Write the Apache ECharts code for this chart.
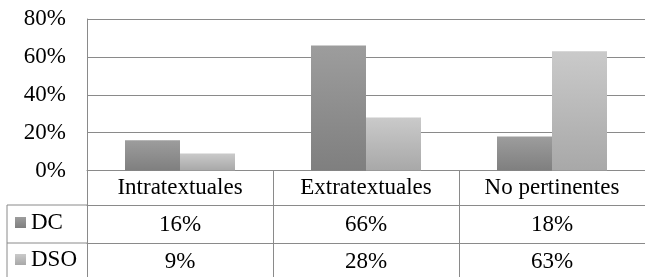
<!DOCTYPE html>
<html lang="es">
<head>
    <meta charset="UTF-8">
    <script type="text/javascript" src="https://cdn.jsdelivr.net/npm/echarts@6/dist/echarts.min.js"></script>
    <style>
        html, body {margin: 0; padding: 0; background: #fff;}
        #chart {width: 645px; height: 277px;}
    </style>
</head>
<body>
<div id="chart"></div>
</body>
<script>
    var categories = ['Intratextuales', 'Extratextuales', 'No pertinentes'];
    var dcValues = [16, 66, 18];
    var dsoValues = [9, 28, 63];
    var yTicks = [0, 20, 40, 60, 80];

    var font = "'Liberation Serif', 'Times New Roman', serif";
    var fontSize = 23;
    var lineColor = '#8a8a8a';
    // rows of the data table under the plot
    var headRow = 34.5, valueRow = 38;
    var tableLeft = 7, plotLeft = 87, axisY = 170.5;

    function pct(v) { return v + '%'; }

    var dcColor = new echarts.graphic.LinearGradient(0, 0, 0, 1, [
        {offset: 0, color: '#9d9d9d'}, {offset: 1, color: '#7f7f7f'}
    ]);
    var dsoColor = new echarts.graphic.LinearGradient(0, 0, 0, 1, [
        {offset: 0, color: '#cacaca'}, {offset: 1, color: '#a8a8a8'}
    ]);

    var tableAxis = function (data, offset, tickLen, margin) {
        return {
            type: 'category',
            position: 'bottom',
            offset: offset,
            data: data,
            axisLine: {show: true, lineStyle: {color: lineColor, width: 1}},
            axisTick: {show: true, inside: false, length: tickLen, lineStyle: {color: lineColor, width: 1}},
            axisLabel: {color: '#000', fontFamily: font, fontSize: fontSize, margin: margin, interval: 0},
            splitLine: {show: false}
        };
    };

    var rowLegend = function (name, top) {
        return {
            left: 15,
            top: top,
            padding: 0,
            icon: 'rect',
            itemWidth: 11,
            itemHeight: 11,
            itemGap: 0,
            textStyle: {color: '#000', fontFamily: font, fontSize: fontSize},
            data: [name]
        };
    };

    var myChart = echarts.init(document.getElementById('chart'));
    myChart.setOption({
        backgroundColor: '#fff',
        animation: false,
        grid: {left: plotLeft, right: -7, top: 19, bottom: 277 - axisY},
        legend: [
            rowLegend('DC', axisY + headRow + 6),
            rowLegend('DSO', axisY + headRow + valueRow + 5)
        ],
        xAxis: [
            tableAxis(categories, 0, headRow, 6),
            tableAxis(dcValues.map(pct), headRow, valueRow, 8),
            tableAxis(dsoValues.map(pct), headRow + valueRow, valueRow, 7)
        ],
        yAxis: {
            type: 'value',
            min: 0,
            max: 80,
            interval: 20,
            axisLine: {show: true, lineStyle: {color: lineColor, width: 1}},
            axisTick: {show: false},
            axisLabel: {
                color: '#000', fontFamily: font, fontSize: fontSize, margin: 21,
                formatter: function (v) { return yTicks.indexOf(v) >= 0 ? v + '%' : ''; }
            },
            splitLine: {lineStyle: {color: lineColor, width: 1}}
        },
        series: [
            {
                name: 'DC',
                type: 'bar',
                data: dcValues,
                barWidth: 55,
                barGap: 0,
                itemStyle: {color: dcColor}
            },
            {
                name: 'DSO',
                type: 'bar',
                data: dsoValues,
                barWidth: 55,
                barGap: 0,
                itemStyle: {color: dsoColor}
            }
        ],
        graphic: [
            {
                type: 'polyline',
                silent: true,
                shape: {points: [[plotLeft, axisY + headRow], [tableLeft, axisY + headRow], [tableLeft, 277]]},
                style: {stroke: lineColor, lineWidth: 1, fill: null}
            },
            {
                type: 'line',
                silent: true,
                shape: {x1: tableLeft, y1: axisY + headRow + valueRow, x2: plotLeft, y2: axisY + headRow + valueRow},
                style: {stroke: lineColor, lineWidth: 1}
            }
        ]
    });
</script>
</html>
